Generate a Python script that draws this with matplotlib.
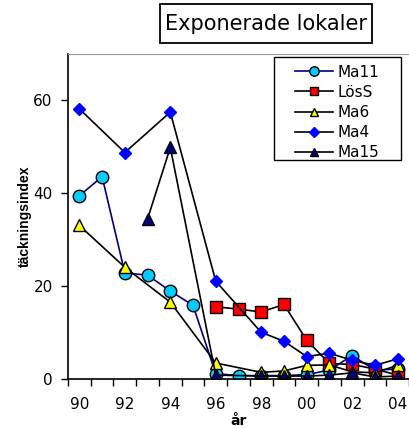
import matplotlib
matplotlib.use("Agg")
import matplotlib.pyplot as plt
from matplotlib.patches import Rectangle
import numpy as np

years = ['90', '91', '92', '93', '94', '95', '96', '97', '98', '99', '00', '01', '02', '03', '04']
tick_labels = ['90', '92', '94', '96', '98', '00', '02', '04']

ma11 = [39.5, 43.6, 22.9, 22.4, 19.0, 15.9, 1.2, 0.8, 0.8, 0.8, 1.0, 2.0, 5.1, 2.0, 2.2]
loss = [None, None, None, None, None, None, 15.6, 15.1, 14.5, 16.1, 8.4, 3.4, 3.2, 2.2, 0.9]
ma6 = [33.1, None, 24.1, None, 16.6, None, 3.5, None, 1.5, 1.8, 3.0, 3.1, 1.6, 1.4, 3.0]
ma4 = [58.2, None, 48.8, None, 57.5, None, 21.1, None, 10.1, 8.2, 4.9, 5.6, 4.1, 3.0, 4.4]
ma15 = [None, None, None, 34.5, 49.9, None, 0.9, None, 0.7, 0.7, 0.7, 0.9, 1.4, 0.5, 0.7]

plt.rcParams['font.family'] = ['DejaVu Sans']

W, H = 409, 428
fig = plt.figure(figsize=(W / 100, H / 100), dpi=100)
ax = fig.add_axes([68 / W, 1 - 379.3 / H, 341 / W, (379.3 - 54) / H])

series = [
    ('Ma11', ma11, dict(color='#000080', marker='o', mfc='#00CCFF', mec='black', ms=9)),
    ('LösS', loss, dict(color='black', marker='s', mfc='red', mec='black', ms=8.5)),
    ('Ma6', ma6, dict(color='black', marker='^', mfc='yellow', mec='black', ms=8.5)),
    ('Ma4', ma4, dict(color='black', marker='D', mfc='#0000FF', mec='#0000FF', ms=6.5)),
    ('Ma15', ma15, dict(color='black', marker='^', mfc='#000080', mec='black', ms=8.5)),
]

for name, vals, st in series:
    xs = [i for i, v in enumerate(vals) if v is not None]
    ys = [v for v in vals if v is not None]
    ax.plot(xs, ys, lw=1.2, mew=1.0, label=name, **st)

ax.set_xlim(-0.5, len(years) - 0.5)
ax.set_ylim(0, 70)
ax.set_yticks([0, 20, 40, 60])
ax.set_xticks([i for i, y in enumerate(years) if y in tick_labels])
ax.set_xticklabels(tick_labels)
ax.set_xticks(np.arange(-0.5, len(years), 1.0), minor=True)
ax.tick_params(axis='x', which='major', length=0, labelsize=11, pad=13)
ax.tick_params(axis='x', which='minor', length=5, width=1, direction='out')
ax.tick_params(axis='y', length=5, width=1, direction='out', labelsize=11, pad=6)

ax.spines['top'].set_color('#999999')
ax.spines['right'].set_visible(False)
ax.spines['left'].set_linewidth(1.2)
ax.spines['bottom'].set_linewidth(1.2)

ax.set_ylabel('täckningsindex', fontsize=10, fontweight='bold', family='Liberation Sans', labelpad=1)
ax.set_xlabel('år', fontsize=10, fontweight='bold', labelpad=1)

leg = ax.legend(loc='upper left', bbox_to_anchor=(287 / W, 1 - 57 / H),
                bbox_transform=fig.transFigure,
                fontsize=11, frameon=False, borderpad=0, labelspacing=0.34,
                handlelength=2.5, handletextpad=0.3, markerscale=0.75)

fig.patches.append(Rectangle((274 / W, 1 - 160 / H), 127 / W, 103 / H,
                             transform=fig.transFigure, fill=False, ec='black', lw=1.0))

fig.patches.append(Rectangle((160 / W, 1 - 43 / H), 212 / W, 39 / H,
                             transform=fig.transFigure, fc='white', ec='black', lw=1.3))
fig.text(266 / W, 1 - 24 / H, 'Exponerade lokaler', ha='center', va='center',
         fontsize=15, family='DejaVu Sans')

fig.savefig('out.png', dpi=100)
